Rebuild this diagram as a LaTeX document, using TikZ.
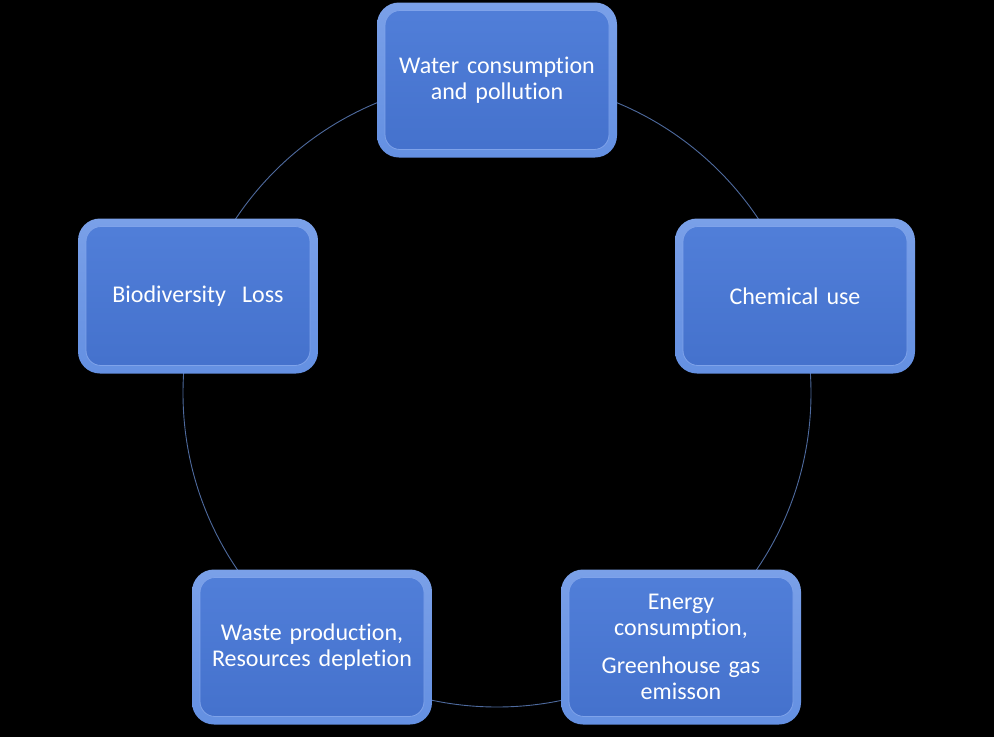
\documentclass[tikz,border=0pt]{standalone}
\usepackage{fontspec}
\setmainfont{Carlito}[Ligatures=NoCommon]
\begin{document}
\begin{tikzpicture}[x=1pt,y=-1pt,
  boxnode/.style={rounded corners=22pt, minimum width=240pt, minimum height=155pt,
    inner sep=0pt, text=white, align=center, text width=230pt,
    font=\fontsize{24}{26.5}\selectfont,
    top color=rimtop, bottom color=rimbot,
    path picture={\draw[rounded corners=15pt, line width=0.8pt, draw=innerline,
        top color=bodytop, bottom color=bodybot]
        ([shift={(8pt,-8pt)}]path picture bounding box.north west) rectangle
        ([shift={(-8pt,8pt)}]path picture bounding box.south east);}},
  ringline/.style={draw=ringcol, line width=0.9pt}]
\definecolor{rimtop}{HTML}{7AA0E8}
\definecolor{rimbot}{HTML}{6490E2}
\definecolor{bodytop}{HTML}{517FD9}
\definecolor{bodybot}{HTML}{4471CC}
\definecolor{innerline}{HTML}{7FA3EA}
\definecolor{ringcol}{HTML}{4E6A9E}
\fill[black] (0,0) rectangle (994,737);
\useasboundingbox (0,0) rectangle (994,737);
\coordinate (ctr) at (497,393);
\draw[ringline] (ctr) circle[radius=314pt];
\node[boxnode] (water) at (497,80) {Water consumption\\and pollution};
\node[boxnode] (chem) at (795,296) {Chemical use};
\node[boxnode] (energy) at (681,647) {Energy\\consumption,\\[11pt]Greenhouse gas\\emisson};
\node[boxnode] (waste) at (312,647) {Waste production,\\Resources depletion};
\node[boxnode] (bio) at (198,296) {Biodiversity\ \ Loss};
\end{tikzpicture}
\end{document}
